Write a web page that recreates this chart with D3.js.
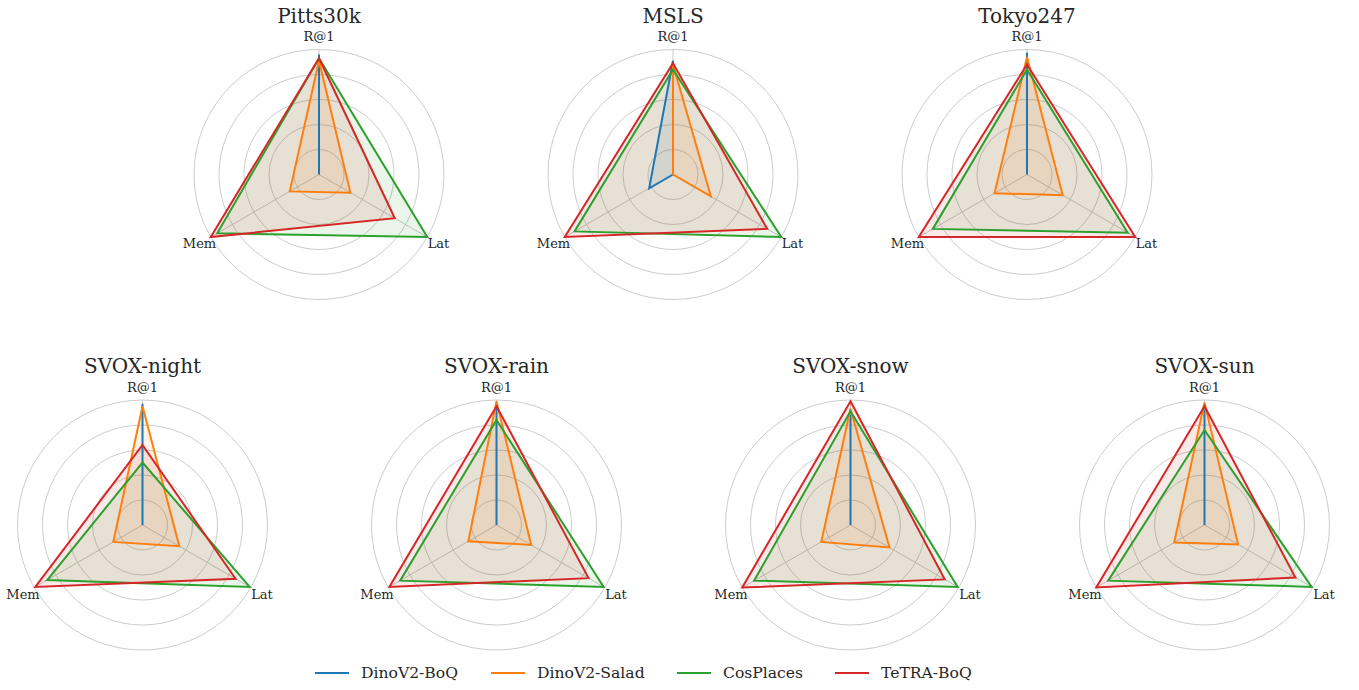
<!DOCTYPE html>
<html lang="en">
<head>
  <meta charset="UTF-8">
  <title>Radar charts</title>
  <style>
    body { margin: 0; background: #fff; }
    text { font-family: "DejaVu Serif", serif; fill: #262626; }
  </style>
</head>
<body>
<div id="chart"></div>

<script src="https://cdn.jsdelivr.net/npm/d3@7/dist/d3.min.js"></script>
<script>
  const DATASETS = ["Pitts30k", "MSLS", "Tokyo247", "SVOX-night", "SVOX-rain", "SVOX-snow", "SVOX-sun"];
  const METRICS = ["R@1", "Lat", "Mem"];
  const METHODS = ["DinoV2-BoQ", "DinoV2-Salad", "CosPlaces", "TeTRA-BoQ"];
  const COLORS = ["#1f77b4", "#ff7f0e", "#2ca02c", "#d62728"];
  const RINGS = [0.2, 0.4, 0.6, 0.8, 1.0];

  // normalised scores per dataset: [R@1, Lat, Mem]
  const BOQ = [[0.96, 0, 0], [0.91, 0, 0.22], [0.975, 0, 0], [0.97, 0, 0], [0.95, 0, 0], [0.88, 0, 0], [0.925, 0, 0]];
  const SALAD = [[0.91, 0.29, 0.27], [0.88, 0.35, 0], [0.94, 0.33, 0.30], [0.95, 0.34, 0.27], [0.99, 0.32, 0.26], [0.93, 0.36, 0.27], [0.98, 0.31, 0.28]];
  const COSPLACES = [[0.93, 1.0, 0.94], [0.84, 1.0, 0.91], [0.84, 0.93, 0.87], [0.50, 0.99, 0.88], [0.84, 0.99, 0.89], [0.91, 0.99, 0.89], [0.76, 0.99, 0.89]];
  const TETRA = [[0.93, 0.70, 1.0], [0.89, 0.87, 1.0], [0.88, 1.0, 1.0], [0.64, 0.86, 0.99], [0.95, 0.85, 0.99], [0.99, 0.87, 1.0], [0.95, 0.84, 1.0]];
  const SERIES = [BOQ, SALAD, COSPLACES, TETRA];

  const width = 1359, height = 690;
  const R = 125;

  const svg = d3.select("#chart")
    .append("svg")
    .attr("width", width)
    .attr("height", height);

  const r = d3.scaleLinear().domain([0, 1]).range([0, R]);
  // three axes evenly spread, clockwise from the top
  const theta = m => METRICS.indexOf(m) * 2 * Math.PI / METRICS.length;

  const line = d3.lineRadial()
    .angle((d, i) => theta(METRICS[i]))
    .radius(d => r(d))
    .curve(d3.curveLinearClosed);

  // centres: top row of 3 centred, bottom row of 4
  const centers = DATASETS.map((d, i) => i < 3
    ? {x: 319 + i * 354, y: 174.5}
    : {x: 142.5 + (i - 3) * 354, y: 525});

  DATASETS.forEach((name, di) => {
    const g = svg.append("g")
      .attr("transform", "translate(" + centers[di].x + "," + centers[di].y + ")");

    // grid rings
    g.selectAll("circle.ring")
      .data(RINGS)
      .enter()
      .append("circle")
      .attr("r", d => r(d))
      .attr("fill", "none")
      .attr("stroke", "#cccccc")
      .attr("stroke-width", 1);

    // spokes
    g.selectAll("line.spoke")
      .data(METRICS)
      .enter()
      .append("line")
      .attr("x1", 0).attr("y1", 0)
      .attr("x2", m => r(1) * Math.sin(theta(m)))
      .attr("y2", m => -r(1) * Math.cos(theta(m)))
      .attr("stroke", "#c8c8c8")
      .attr("stroke-width", 1);

    // series: fills first, then outlines
    SERIES.forEach((s, si) => {
      g.append("path")
        .attr("d", line(s[di]))
        .attr("fill", COLORS[si])
        .attr("fill-opacity", 0.1)
        .attr("stroke", "none");
    });
    SERIES.forEach((s, si) => {
      g.append("path")
        .attr("d", line(s[di]))
        .attr("fill", "none")
        .attr("stroke", COLORS[si])
        .attr("stroke-width", 2);
    });

    // axis labels
    g.selectAll("text.axis")
      .data(METRICS)
      .enter()
      .append("text")
      .attr("x", m => (r(1) + 13) * Math.sin(theta(m)))
      .attr("y", m => -(r(1) + 13) * Math.cos(theta(m)))
      .attr("text-anchor", "middle")
      .attr("dominant-baseline", "central")
      .style("font-size", "13px")
      .text(m => m);

    // title
    g.append("text")
      .attr("x", 0)
      .attr("y", -r(1) - 27)
      .attr("text-anchor", "middle")
      .style("font-size", "20px")
      .text(name);
  });

  // legend
  const legendX = [315, 491, 677, 835];
  const legend = svg.append("g").attr("transform", "translate(0,673)");
  METHODS.forEach((m, i) => {
    legend.append("line")
      .attr("x1", legendX[i]).attr("x2", legendX[i] + 34)
      .attr("y1", 0).attr("y2", 0)
      .attr("stroke", COLORS[i])
      .attr("stroke-width", 2);
    legend.append("text")
      .attr("x", legendX[i] + 46)
      .attr("y", 0)
      .attr("dominant-baseline", "central")
      .style("font-size", "15.6px")
      .text(m);
  });
</script>
</body>
</html>
